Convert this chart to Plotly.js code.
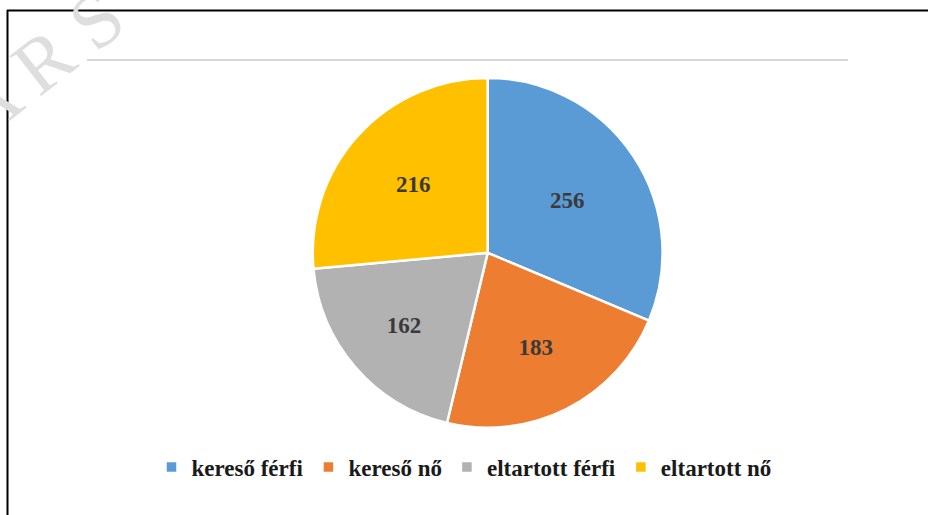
<!DOCTYPE html>
<html>
<head>
<meta charset="utf-8">
<script src="https://cdn.plot.ly/plotly-3.0.1.min.js"></script>
<style>
  html, body { margin: 0; padding: 0; background: #fff; }
  #pieChart { width: 928px; height: 515px; }
</style>
</head>
<body>
<div id="pieChart"></div>
<script>
var config = { responsive: false, displayModeBar: false }

// adatok
var labels = ['kereső férfi', 'kereső nő', 'eltartott férfi', 'eltartott nő']
var values = [256, 183, 162, 216]
var colors = ['#5B9BD5', '#ED7D31', '#B2B2B2', '#FFC000']

var pie_data = [{
  values: values,
  labels: labels,
  type: 'pie',
  sort: false,
  direction: 'clockwise',
  rotation: 0,
  textinfo: 'value',
  textposition: 'inside',
  insidetextorientation: 'horizontal',
  textfont: { family: 'Liberation Serif, serif', size: 23, color: '#3a3a3a', weight: 'bold' },
  marker: { colors: colors, line: { color: '#ffffff', width: 2.5 } },
  domain: { x: [0.337, 0.714], y: [0.169, 0.849] },
  hoverinfo: 'none'
}]

var pie_layout = {
  width: 928,
  height: 515,
  margin: { l: 0, r: 0, t: 0, b: 0 },
  paper_bgcolor: '#ffffff',
  showlegend: true,
  legend: {
    orientation: 'h',
    x: 0.5, xanchor: 'center',
    y: 0.093, yanchor: 'middle',
    font: { family: 'Liberation Serif, serif', size: 23, color: '#1a1a1a', weight: 'bold' },
    itemclick: false
  },
  shapes: [
    // keret
    { type: 'line', xref: 'paper', yref: 'paper', x0: 7 / 928, x1: 1, y0: 1 - 10.5 / 515, y1: 1 - 10.5 / 515, line: { color: '#000', width: 2 } },
    { type: 'line', xref: 'paper', yref: 'paper', x0: 7.5 / 928, x1: 7.5 / 928, y0: 0, y1: 1 - 10 / 515, line: { color: '#000', width: 2 } },
    // szürke vonal
    { type: 'line', xref: 'paper', yref: 'paper', x0: 87 / 928, x1: 848 / 928, y0: 1 - 60 / 515, y1: 1 - 60 / 515, line: { color: '#d9d9d9', width: 2 } }
  ],
  annotations: [{
    // vízjel
    text: 'A R S',
    xref: 'paper', yref: 'paper',
    x: 40 / 928, y: 1 - 64 / 515,
    xanchor: 'center', yanchor: 'middle',
    showarrow: false,
    textangle: -38,
    font: { family: 'Liberation Serif, serif', size: 78, color: '#dedede' }
  }]
}

Plotly.newPlot('pieChart', pie_data, pie_layout, config)
</script>
</body>
</html>
